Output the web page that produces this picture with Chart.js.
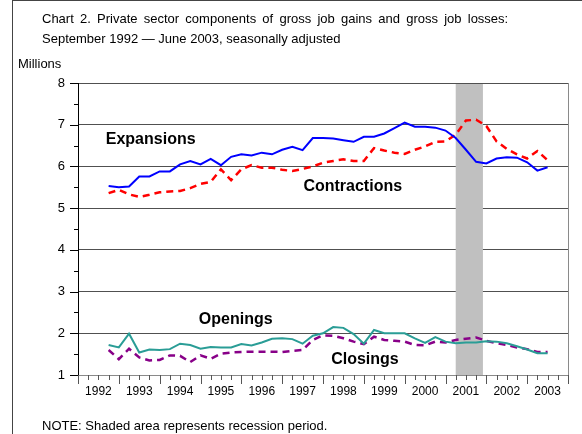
<!DOCTYPE html>
<html>
<head>
<meta charset="utf-8">
<script src="https://cdn.jsdelivr.net/npm/chart.js@4.4.0/dist/chart.umd.min.js"></script>
<style>
  body { margin: 0; background: #fff; }
  #wrap { position: relative; width: 582px; height: 434px; overflow: hidden;
          font-family: "Liberation Sans", Arial, sans-serif; color: #000; }
  #frame { position: absolute; left: 12px; top: 0; width: 580px; height: 440px;
           border-left: 1px solid #444; border-top: 1px solid #444; }
  .txt { position: absolute; font-size: 13px; line-height: 15px; white-space: nowrap; }
  canvas { position: absolute; left: 0; top: 0; }
</style>
</head>
<body>
<div id="wrap">
  <div id="frame"></div>
  <canvas id="jobsChart" width="582" height="434"></canvas>
  <div class="txt" style="left:42px;top:11px;word-spacing:2.6px">Chart 2. Private sector components of gross job gains and gross job losses:</div>
  <div class="txt" style="left:42px;top:31px">September 1992 &mdash; June 2003, seasonally adjusted</div>
  <div class="txt" style="left:18px;top:56px">Millions</div>
  <div class="txt" style="left:42px;top:418px">NOTE: Shaded area represents recession period.</div>
</div>
<script>
// quarterly data, Sep 1992 .. Jun 2003 (millions)
var expansions = [5.53, 5.50, 5.52, 5.76, 5.76, 5.88, 5.88, 6.05, 6.13, 6.05, 6.18, 6.03, 6.23, 6.29, 6.26,
                  6.33, 6.29, 6.40, 6.47, 6.39, 6.68, 6.68, 6.67, 6.63, 6.59, 6.71, 6.71, 6.79, 6.92, 7.05,
                  6.95, 6.95, 6.93, 6.86, 6.68, 6.40, 6.11, 6.07, 6.19, 6.22, 6.21, 6.10, 5.90, 5.98];
var contractions = [5.36, 5.44, 5.33, 5.27, 5.32, 5.38, 5.40, 5.41, 5.48, 5.58, 5.63, 5.93, 5.67, 5.93, 6.03,
                    5.97, 5.97, 5.92, 5.89, 5.94, 6.00, 6.09, 6.13, 6.17, 6.13, 6.13, 6.44, 6.38, 6.33, 6.30,
                    6.40, 6.48, 6.59, 6.60, 6.76, 7.10, 7.12, 6.97, 6.60, 6.42, 6.29, 6.19, 6.37, 6.15];
var openings = [1.72, 1.66, 1.99, 1.54, 1.61, 1.60, 1.62, 1.75, 1.72, 1.63, 1.67, 1.66, 1.66, 1.74, 1.71,
                1.78, 1.87, 1.88, 1.86, 1.75, 1.94, 2.00, 2.15, 2.13, 1.98, 1.75, 2.08, 2.00, 2.00, 2.00,
                1.88, 1.77, 1.91, 1.80, 1.76, 1.78, 1.78, 1.81, 1.80, 1.76, 1.69, 1.61, 1.52, 1.52];
var closings = [1.60, 1.38, 1.63, 1.42, 1.35, 1.36, 1.47, 1.46, 1.31, 1.47, 1.39, 1.51, 1.54, 1.55, 1.56,
                1.56, 1.56, 1.55, 1.58, 1.60, 1.84, 1.95, 1.94, 1.88, 1.80, 1.74, 1.92, 1.84, 1.82, 1.80,
                1.72, 1.71, 1.80, 1.78, 1.84, 1.87, 1.90, 1.82, 1.76, 1.72, 1.66, 1.62, 1.55, 1.55];
var yearLabels = [1992, 1993, 1994, 1995, 1996, 1997, 1998, 1999, 2000, 2001, 2002, 2003];
var yTicks = [1, 2, 3, 4, 5, 6, 7, 8];
var recession = [2001 + 3 / 12, 2001 + 11 / 12];   // March - November 2001

// quarter-end months as decimal years
var quarterX = [];
for (var i = 0; i < expansions.length; i++) {
  var m = 9 + 3 * i;
  quarterX.push(1992 + Math.floor((m - 1) / 12) + (((m - 1) % 12) + 1) / 12);
}
function pts(vals) { return vals.map(function (v, i) { return { x: quarterX[i], y: v }; }); }

// in-chart series names, anchored in data units
var seriesNames = [
  { text: 'Expansions',   x: 1992.68, y: 6.64 },
  { text: 'Contractions', x: 1997.52, y: 5.51 },
  { text: 'Openings',     x: 1994.96, y: 2.33 },
  { text: 'Closings',     x: 1998.20, y: 1.36 }
];

var FONT = '"Liberation Sans", Arial, sans-serif';

var decorations = {
  id: 'decorations',
  beforeDatasetsDraw: function (chart) {
    var ctx = chart.ctx, a = chart.chartArea, x = chart.scales.x;
    var x0 = x.getPixelForValue(recession[0]), x1 = x.getPixelForValue(recession[1]);
    ctx.save();
    ctx.fillStyle = '#c0c0c0';
    ctx.fillRect(x0, a.top + 1, x1 - x0, a.bottom - a.top - 1);
    ctx.restore();
  },
  afterDatasetsDraw: function (chart) {
    var ctx = chart.ctx, a = chart.chartArea, x = chart.scales.x, y = chart.scales.y;
    ctx.save();
    // right border
    ctx.strokeStyle = '#8a8a8a';
    ctx.lineWidth = 1;
    ctx.beginPath();
    ctx.moveTo(Math.round(a.right) + 0.5, a.top);
    ctx.lineTo(Math.round(a.right) + 0.5, a.bottom);
    ctx.stroke();
    // y tick marks, every half unit
    ctx.strokeStyle = '#000';
    for (var v = 1; v <= 8; v += 0.5) {
      var py = Math.round(y.getPixelForValue(v)) + 0.5;
      var len = (v % 1 === 0) ? 8 : 4;
      ctx.beginPath();
      ctx.moveTo(a.left - len, py);
      ctx.lineTo(a.left, py);
      ctx.stroke();
    }
    // x tick marks, every quarter
    ctx.strokeStyle = '#555';
    for (var q = 1992; q <= 2004.001; q += 0.25) {
      var px = Math.round(x.getPixelForValue(q)) + 0.5;
      var l = (Math.abs(q - Math.round(q)) < 0.01) ? 9 : 5;
      ctx.beginPath();
      ctx.moveTo(px, a.bottom);
      ctx.lineTo(px, a.bottom + l);
      ctx.stroke();
    }
    // series names
    ctx.fillStyle = '#000';
    ctx.font = 'bold 16px ' + FONT;
    ctx.textAlign = 'left';
    ctx.textBaseline = 'middle';
    seriesNames.forEach(function (s) {
      ctx.fillText(s.text, x.getPixelForValue(s.x), y.getPixelForValue(s.y));
    });
    ctx.restore();
  }
};

new Chart(document.getElementById('jobsChart'), {
  type: 'line',
  data: {
    datasets: [
      { label: 'Expansions', data: pts(expansions), borderColor: '#0000ff', borderWidth: 2 },
      { label: 'Contractions', data: pts(contractions), borderColor: '#ff0000', borderWidth: 2.5, borderDash: [7, 5] },
      { label: 'Openings', data: pts(openings), borderColor: '#2a9d96', borderWidth: 2 },
      { label: 'Closings', data: pts(closings), borderColor: '#880088', borderWidth: 2.5, borderDash: [7, 5] }
    ]
  },
  options: {
    responsive: false,
    animation: false,
    layout: { padding: { top: 83, right: 14, left: 0, bottom: 29 } },
    elements: { point: { radius: 0 }, line: { tension: 0, fill: false } },
    plugins: { legend: { display: false }, tooltip: { enabled: false } },
    scales: {
      x: {
        type: 'linear',
        min: 1992,
        max: 2004,
        afterBuildTicks: function (s) {
          s.ticks = yearLabels.map(function (yr) { return { value: yr + 0.5 }; });
        },
        afterFit: function (s) { s.height = 30; },
        grid: { display: false, drawTicks: false },
        border: { display: true, color: '#8a8a8a', width: 1 },
        ticks: {
          autoSkip: false,
          maxRotation: 0,
          padding: 9,
          color: '#000',
          font: { family: FONT, size: 12 },
          callback: function (v) { return String(Math.floor(v)); }
        }
      },
      y: {
        min: 1,
        max: 8,
        afterBuildTicks: function (s) {
          s.ticks = yTicks.map(function (v) { return { value: v }; });
        },
        afterFit: function (s) { s.width = 78; },
        grid: { color: '#505050', drawTicks: false },
        border: { display: true, color: '#000', width: 1 },
        ticks: {
          padding: 13,
          color: '#000',
          font: { family: FONT, size: 13 }
        }
      }
    }
  },
  plugins: [decorations]
});
</script>
</body>
</html>
